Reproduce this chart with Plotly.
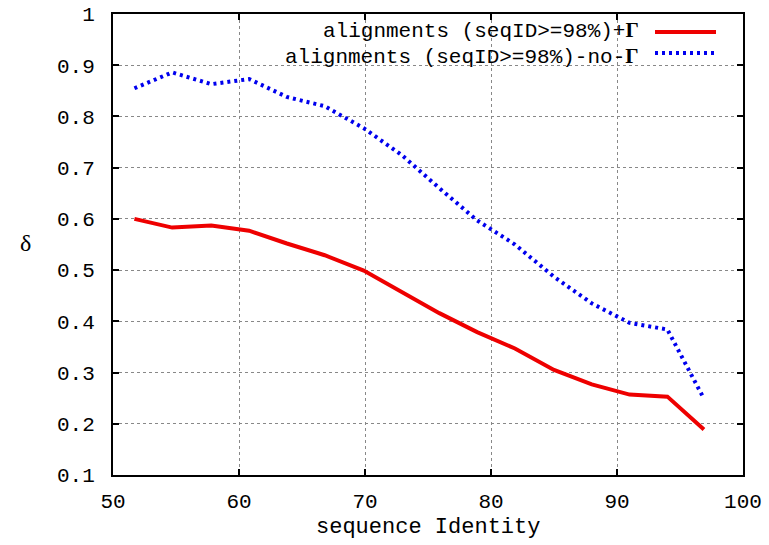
import plotly.graph_objects as go

seq_identity = [51.7, 54.7, 57.8, 60.8, 63.8, 66.8, 69.9, 72.9, 75.9, 78.9, 81.9, 85.0, 88.0, 91.0, 94.0, 96.9]
delta_gamma = [0.600, 0.583, 0.587, 0.577, 0.552, 0.529, 0.499, 0.458, 0.416, 0.379, 0.347, 0.305, 0.277, 0.257, 0.253, 0.189]
delta_no_gamma = [0.855, 0.886, 0.863, 0.873, 0.838, 0.820, 0.777, 0.725, 0.660, 0.597, 0.550, 0.487, 0.435, 0.397, 0.384, 0.249]
series_names = ["alignments (seqID>=98%)+", "alignments (seqID>=98%)-no-"]
x_ticks = [50, 60, 70, 80, 90, 100]
y_ticks = [0.1, 0.2, 0.3, 0.4, 0.5, 0.6, 0.7, 0.8, 0.9, 1]
y_tick_text = ["0.1", "0.2", "0.3", "0.4", "0.5", "0.6", "0.7", "0.8", "0.9", "1"]

MONO = "Liberation Mono"
SERIF = "Liberation Serif"
W, H = 769, 545
L, R, T, B = 113, 26, 14, 70
pw, ph = W - L - R, H - T - B

def px(x):
    return (x - L) / pw

def py(y):
    return (H - B - y) / ph

fig = go.Figure()
fig.add_trace(go.Scatter(x=seq_identity, y=delta_gamma, mode="lines",
                         line=dict(color="#ee0000", width=4), name=series_names[0] + "Γ",
                         showlegend=False))
fig.add_trace(go.Scatter(x=seq_identity, y=delta_no_gamma, mode="lines",
                         line=dict(color="#0000ee", width=4, dash="3px,4px"), name=series_names[1] + "Γ",
                         showlegend=False))

# key background (hides grid behind key)
fig.add_shape(type="rect", xref="paper", yref="paper", x0=px(270), x1=1, y0=py(66), y1=1,
              fillcolor="white", line=dict(width=0), layer="between")

rows = [(30, 32, series_names[0], dict(color="#ee0000", width=4)),
        (56, 53, series_names[1], dict(color="#0000ee", width=4, dash="3px,4px"))]
for ytext, yline, name, ln in rows:
    fig.add_annotation(xref="paper", yref="paper", x=px(641), y=py(ytext), xanchor="right", yanchor="middle",
                       showarrow=False,
                       text=name + '<span style="font-family:' + SERIF + ';font-weight:bold">Γ</span>',
                       font=dict(family=MONO, size=21, color="black"))
    fig.add_shape(type="line", xref="paper", yref="paper", x0=px(655), x1=px(716), y0=py(yline), y1=py(yline),
                  line=ln, layer="above")

fig.add_annotation(xref="paper", yref="paper", x=px(25), y=py(243), xanchor="center", yanchor="middle",
                   showarrow=False, text="δ", font=dict(family=SERIF, size=24, color="black"))
fig.add_annotation(xref="paper", yref="paper", x=px(428), y=py(527), xanchor="center", yanchor="middle",
                   showarrow=False, text="sequence Identity", font=dict(family=MONO, size=22, color="black"))

axis_common = dict(showline=True, linecolor="black", linewidth=2, mirror="ticks",
                   ticks="inside", ticklen=6, tickwidth=2, tickcolor="black",
                   showgrid=True, gridcolor="#888888", gridwidth=1, griddash="dot",
                   zeroline=False, automargin=False,
                   tickfont=dict(family=MONO, size=21, color="black"))

fig.update_xaxes(range=[50, 100], tickvals=x_ticks, ticklabelstandoff=6, **axis_common)
fig.update_yaxes(range=[0.1, 1], tickvals=y_ticks, ticktext=y_tick_text, ticklabelstandoff=12,
                 **axis_common)

fig.update_layout(width=W, height=H, margin=dict(l=L, r=R, t=T, b=B, autoexpand=False),
                  paper_bgcolor="white", plot_bgcolor="white", showlegend=False)

fig.write_html("out.html")
